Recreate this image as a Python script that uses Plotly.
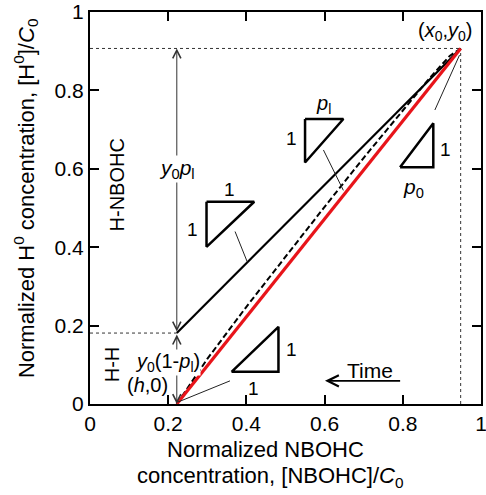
import plotly.graph_objects as go

FONT = "Liberation Sans, Arial, Helvetica, sans-serif"

# ---- axes ----
x_ticks = [0, 0.2, 0.4, 0.6, 0.8, 1.0]
x_tick_labels = ["0", "0.2", "0.4", "0.6", "0.8", "1"]
y_ticks = [0, 0.2, 0.4, 0.6, 0.8, 1.0]
y_tick_labels = ["0", "0.2", "0.4", "0.6", "0.8", "1"]

# ---- key points ----
h = 0.222
x0, y0 = 0.948, 0.907
y_low = 0.181  # y0(1-pl)

# ---- main lines ----
upper_x = [h, x0]
upper_y = [y_low, y0]
red_x = [h, x0]
red_y = [0.0, y0]
dashed_x = [0.222, 0.30, 0.40, 0.50, 0.60, 0.70, 0.80, 0.87, 0.92, 0.948]
dashed_y = [0.0, 0.115, 0.248, 0.377, 0.503, 0.628, 0.750, 0.833, 0.888, 0.907]

# ---- guide (dotted) lines ----
guide_top_x = [0, x0]
guide_top_y = [y0, y0]
guide_v_x = [x0, x0]
guide_v_y = [0, y0]
guide_low_x = [0, h]
guide_low_y = [y_low, y_low]

# ---- slope triangles ----
tri1_x = [0.298, 0.420, 0.298, 0.298]
tri1_y = [0.516, 0.516, 0.401, 0.516]
tri2_x = [0.550, 0.648, 0.550, 0.550]
tri2_y = [0.727, 0.727, 0.616, 0.727]
tri3_x = [0.793, 0.878, 0.878, 0.793]
tri3_y = [0.604, 0.604, 0.716, 0.604]
tri4_x = [0.362, 0.482, 0.482, 0.362]
tri4_y = [0.082, 0.082, 0.197, 0.082]

# ---- leader lines ----
lead1_x = [0.371, 0.402]
lead1_y = [0.440, 0.363]
lead2_x = [0.597, 0.648]
lead2_y = [0.648, 0.545]
lead3_x = [0.882, 0.945]
lead3_y = [0.750, 0.890]
lead4_x = [0.358, 0.225]
lead4_y = [0.059, 0.005]

# ---- time arrow ----
time_tail = (0.797, 0.059)
time_head = (0.601, 0.059)

fig = go.Figure()

def line(x, y, color="black", width=2, dash="solid"):
    fig.add_trace(go.Scatter(x=x, y=y, mode="lines",
                             line=dict(color=color, width=width, dash=dash),
                             hoverinfo="skip", showlegend=False))

# guides
line(guide_top_x, guide_top_y, color="#333", width=1, dash="dot")
line(guide_v_x, guide_v_y, color="#333", width=1, dash="dot")
line(guide_low_x, guide_low_y, color="#333", width=1, dash="dot")

# main curves
line(upper_x, upper_y, width=2.2)
line(dashed_x, dashed_y, width=2, dash="6px,3px")
line(red_x, red_y, color="#e8141a", width=3.2)

# triangles
for tx, ty in [(tri1_x, tri1_y), (tri2_x, tri2_y), (tri3_x, tri3_y), (tri4_x, tri4_y)]:
    line(tx, ty, width=2.5)

# leaders
for lx, ly in [(lead1_x, lead1_y), (lead2_x, lead2_y), (lead3_x, lead3_y), (lead4_x, lead4_y)]:
    line(lx, ly, color="#222", width=1)

annotations = []

def arrow(tail, head, both=False, width=1, size=1.6, color="#333"):
    d = dict(x=head[0], y=head[1], ax=tail[0], ay=tail[1],
             xref="x", yref="y", axref="x", ayref="y",
             text="", showarrow=True, arrowhead=5, arrowwidth=width,
             arrowsize=size, arrowcolor=color)
    if both:
        d.update(arrowside="end+start", startarrowhead=5, startarrowsize=size)
    annotations.append(d)

arrow((h, y_low), (h, y0), both=True)
arrow((h, y_low), (h, 0.0), both=True)
arrow(time_tail, time_head, width=1.6, size=1.4, color="black")

def label(text, x, y, size=20, angle=0, bg=None):
    d = dict(x=x, y=y, xref="x", yref="y", text=text, showarrow=False,
             xanchor="center", yanchor="middle",
             font=dict(family=FONT, size=size, color="black"), textangle=angle)
    if bg:
        d.update(bgcolor=bg, borderpad=0)
    annotations.append(d)

label("H-NBOHC", 0.068, 0.559, angle=-90)
label("H-H", 0.055, 0.100, angle=-90)
label("<i>y</i><sub>0</sub><i>p</i><sub>l</sub>", 0.222, 0.600, size=21, bg="white")
label("<i>y</i><sub>0</sub>(1-<i>p</i><sub>l</sub>)", 0.197, 0.106, size=20, bg="white")
label("(<i>h</i>,0)", 0.146, 0.048, size=20)
label("(<i>x</i><sub>0</sub>,<i>y</i><sub>0</sub>)", 0.909, 0.950, size=20)
label("Time", 0.717, 0.085, size=21)
label("1", 0.358, 0.548, size=19)
label("1", 0.263, 0.446, size=19)
label("<i>p</i><sub>l</sub>", 0.597, 0.763, size=20)
label("1", 0.516, 0.678, size=19)
label("1", 0.908, 0.648, size=19)
label("<i>p</i><sub>0</sub>", 0.827, 0.550, size=21)
label("1", 0.515, 0.138, size=19)
label("1", 0.417, 0.040, size=19)

# axis titles as paper annotations
annotations.append(dict(x=0.448, y=-0.117, xref="paper", yref="paper",
                        xanchor="center", yanchor="middle",
                        text="Normalized NBOHC",
                        showarrow=False, font=dict(family=FONT, size=22, color="black")))
annotations.append(dict(x=0.462, y=-0.186, xref="paper", yref="paper",
                        xanchor="center", yanchor="middle",
                        text="concentration, [NBOHC]/<i>C</i><sub>0</sub>",
                        showarrow=False, font=dict(family=FONT, size=22, color="black")))
annotations.append(dict(x=-0.163, y=0.526, xref="paper", yref="paper", textangle=-90,
                        xanchor="center", yanchor="middle",
                        text="Normalized H<sup>0</sup> concentration, [H<sup>0</sup>]/<i>C</i><sub>0</sub>",
                        showarrow=False, font=dict(family=FONT, size=22, color="black")))

axis_common = dict(range=[0, 1], showline=True, linecolor="black", linewidth=2,
                   mirror="ticks", ticks="inside", ticklen=9, tickwidth=2,
                   tickcolor="black", showgrid=False, zeroline=False, automargin=False,
                   ticklabeloverflow="allow",
                   tickfont=dict(family=FONT, size=21, color="black"))

fig.update_layout(
    width=486, height=495,
    margin=dict(l=90, r=5, t=12, b=91),
    paper_bgcolor="white", plot_bgcolor="white",
    xaxis=dict(tickvals=x_ticks, ticktext=x_tick_labels, **axis_common),
    yaxis=dict(tickvals=y_ticks, ticktext=y_tick_labels, **axis_common),
    annotations=annotations,
    font=dict(family=FONT),
)

fig.write_html("out.html")
